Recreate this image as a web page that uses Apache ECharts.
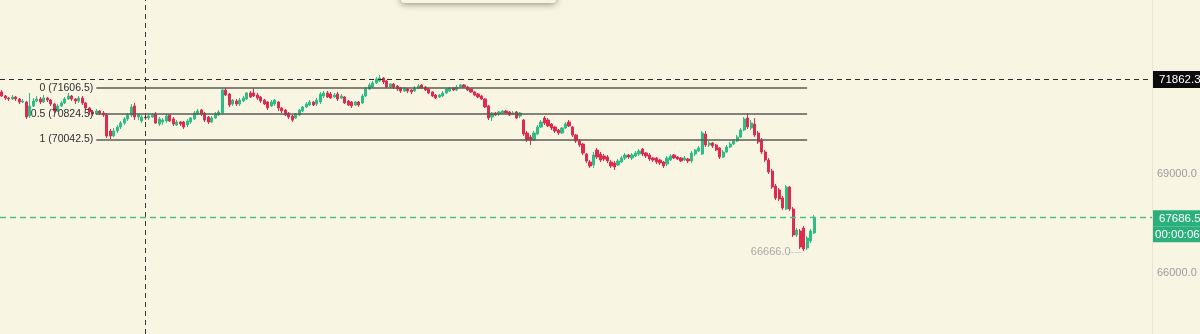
<!DOCTYPE html>
<html><head><meta charset="utf-8">
<script src="https://cdn.jsdelivr.net/npm/echarts@6/dist/echarts.min.js"></script>
<style>html,body{margin:0;padding:0;background:#f9f5e3;} #c{width:1200px;height:334px;}</style>
</head><body><div id="c"></div>
<script>
// ---- data (prices) ----
const opens = [
71485,71364,71303,71273,71333,71273,71182,71182,70758,71061,
71212,71273,71182,71303,71242,71121,70909,71061,71152,71273,
71364,71273,71212,71303,71152,71000,70879,70818,70909,70848,
70788,70303,70152,70303,70424,70545,70667,70788,71061,70727,
70606,70727,70697,70727,70818,70515,70576,70606,70788,70667,
70485,70576,70576,70485,70576,70667,70818,70939,70848,70727,
70576,70697,70788,70848,71545,71424,71121,71212,71121,71212,
71273,71455,71455,71394,71333,71242,71182,71061,71121,71182,
71000,70939,70848,70758,70697,70788,70909,71030,71091,71182,
71121,71182,71364,71455,71424,71333,71424,71303,71333,71212,
71182,71091,71182,71152,71364,71576,71636,71758,71818,71909,
71818,71636,71727,71667,71606,71515,71576,71545,71515,71606,
71697,71636,71576,71485,71394,71333,71364,71455,71515,71606,
71545,71636,71697,71636,71576,71485,71424,71364,71273,71061,
70727,70848,70818,70848,70909,70879,70818,70879,70758,70636,
70242,70121,70030,70212,70424,70697,70636,70515,70424,70333,
70242,70394,70576,70424,70182,70000,69909,69606,69364,69273,
69727,69606,69545,69515,69364,69333,69273,69364,69485,69576,
69485,69545,69606,69758,69636,69576,69485,69485,69424,69364,
69303,69424,69576,69515,69485,69424,69455,69394,69606,69697,
69606,70212,69879,69939,69879,69788,69515,69667,69818,69909,
70000,70121,70333,70697,70394,70515,70242,70030,69667,69424,
69091,68636,68515,68273,67939,68606,67939,67152,67273,67364,
66758,66970,67212];
const closes = [
71364,71303,71273,71333,71273,71182,71212,70727,71061,71212,
71273,71182,71303,71242,71121,70909,71061,71152,71273,71364,
71273,71212,71303,71152,71000,70879,70818,70909,70848,70788,
70152,70152,70303,70424,70545,70667,70788,71030,70727,70788,
70727,70697,70758,70788,70545,70667,70636,70758,70606,70515,
70576,70515,70424,70606,70697,70848,70909,70818,70636,70576,
70697,70818,70879,71545,71394,71091,71242,71121,71242,71303,
71455,71333,71364,71303,71212,71121,71000,71182,71242,71000,
70909,70788,70727,70636,70818,70939,71030,71121,71182,71091,
71242,71424,71455,71333,71303,71394,71273,71364,71152,71091,
71061,71182,71091,71364,71576,71697,71758,71879,71909,71788,
71636,71727,71636,71576,71515,71576,71515,71485,71606,71667,
71606,71545,71455,71364,71303,71394,71455,71576,71606,71545,
71636,71697,71636,71545,71485,71394,71333,71273,71030,70697,
70848,70788,70879,70909,70848,70788,70848,70697,70848,70212,
70030,70030,70242,70424,70576,70545,70455,70394,70303,70242,
70394,70515,70455,70182,70000,69879,69636,69394,69242,69576,
69515,69424,69455,69394,69242,69212,69394,69485,69576,69515,
69576,69636,69697,69606,69545,69455,69424,69364,69333,69242,
69485,69545,69485,69455,69394,69485,69394,69636,69727,69788,
70242,69879,69939,69848,69727,69515,69667,69818,69909,70000,
70121,70333,70667,70424,70545,70182,69970,69667,69424,69061,
68606,68273,68242,67970,68606,67939,67152,67303,66788,66727,
67061,67273,67686.5];
const lows = [
71333,71242,71212,71242,71212,71121,71152,70667,70697,71030,
71182,71121,71152,71182,71061,70848,70879,71030,71121,71242,
71212,71121,71152,71091,70939,70788,70758,70788,70788,70727,
70091,70061,70121,70242,70364,70485,70606,70727,70636,70636,
70545,70636,70636,70697,70515,70455,70485,70545,70576,70455,
70455,70455,70364,70424,70515,70636,70788,70758,70576,70515,
70545,70667,70758,70818,71364,71030,71061,71061,71061,71182,
71242,71303,71333,71242,71152,71091,70939,71030,71061,70909,
70848,70758,70667,70576,70667,70758,70879,71000,71061,71061,
71061,71121,71303,71303,71273,71303,71212,71273,71121,71061,
71000,71061,71030,71121,71333,71545,71606,71727,71788,71727,
71606,71606,71576,71515,71455,71485,71455,71424,71485,71576,
71576,71515,71424,71333,71273,71303,71333,71424,71485,71515,
71515,71606,71606,71515,71455,71364,71303,71242,71000,70636,
70606,70758,70758,70818,70818,70758,70788,70667,70697,70152,
69970,69879,70000,70182,70394,70485,70424,70333,70242,70182,
70212,70364,70424,70121,69939,69818,69576,69333,69182,69182,
69455,69364,69394,69333,69182,69121,69242,69333,69424,69455,
69424,69515,69545,69545,69485,69394,69364,69303,69273,69182,
69242,69394,69455,69424,69364,69394,69333,69333,69545,69667,
69576,69818,69818,69788,69697,69455,69485,69636,69788,69879,
69970,70091,70303,70364,70333,70121,69909,69606,69364,69000,
68545,68212,68182,67909,67909,67879,67091,67091,66727,66666,
66697,66909,67182];
const highs = [
71545,71394,71333,71394,71364,71303,71273,71212,71455,71303,
71364,71333,71394,71333,71273,71152,71121,71212,71333,71455,
71394,71303,71364,71364,71182,71030,70939,70970,70939,70909,
70848,70364,70394,70485,70606,70727,70848,71121,71152,70848,
70788,70818,70818,70848,70879,70727,70697,70818,70818,70727,
70636,70606,70606,70667,70727,70909,70970,70970,70879,70758,
70758,70879,70939,71576,71606,71455,71273,71273,71303,71364,
71485,71515,71606,71455,71364,71273,71212,71242,71273,71212,
71030,70970,70879,70788,70848,70970,71061,71182,71242,71212,
71303,71485,71515,71515,71485,71455,71485,71424,71364,71242,
71212,71212,71212,71424,71636,71758,71818,71939,72000,71939,
71848,71758,71758,71697,71636,71636,71606,71576,71667,71727,
71727,71667,71606,71515,71424,71424,71515,71606,71636,71636,
71697,71727,71727,71667,71606,71515,71455,71394,71303,71091,
70879,70879,70909,70939,70939,70909,70909,70909,70879,70667,
70303,70182,70303,70485,70636,70758,70697,70545,70455,70364,
70424,70576,70636,70455,70212,70061,69939,69636,69424,69667,
69788,69667,69606,69576,69424,69394,69455,69545,69636,69606,
69636,69697,69758,69788,69667,69636,69515,69515,69455,69394,
69545,69606,69606,69545,69515,69545,69485,69697,69758,69848,
70303,70303,70000,69970,69909,69818,69727,69879,69970,70061,
70182,70394,70727,70848,70636,70697,70303,70091,69727,69485,
69152,68697,68576,68333,68667,68636,68000,67364,67333,67424,
67121,67333,67758];

const slotCount = 329;                 // candle slots across the plot (incl. empty right margin)
const categories = Array.from({length: slotCount}, (_, i) => String(i));
const yTickValues = [66000, 69000];
const fibLevels = [
  {name: '0',   value: 71606.5},
  {name: '0.5', value: 70824.5},
  {name: '1',   value: 70042.5}
];
const fibStartIndex = 27, fibEndIndex = 230;
const crossPrice = 71862.3, crossIndex = 41;
const lastPrice = 67686.5, countdown = '00:00:06';
const minPrice = 66666.0, minIndex = 229;

// ---- chart ----
const UP = '#2fbd86', DOWN = '#dd2c4e', TAG = '#2bb07c', LASTLINE = '#4cc18e';
const candles = opens.map((o, i) => [o, closes[i], lows[i], highs[i]]);
const chart = echarts.init(document.getElementById('c'), null, {renderer: 'canvas'});

const guideLines = [
  {
    yAxis: crossPrice,
    lineStyle: {color: '#2a2a2a', type: [5, 4], width: 1},
    label: {show: true, position: 'end', distance: 1, formatter: crossPrice.toFixed(1),
      backgroundColor: '#0c0c0c', color: '#ffffff', fontSize: 11.5, padding: [3, 5, 2, 6]}
  },
  {
    xAxis: crossIndex,
    lineStyle: {color: '#3a3a3a', type: [5, 4], width: 1},
    label: {show: false}
  }
];
fibLevels.forEach(f => {
  guideLines.push([
    {coord: [fibStartIndex, f.value],
     lineStyle: {color: '#5c5a52', type: 'solid', width: 1.5},
     label: {show: true, position: 'start', distance: 3, color: '#2e2e2e', fontSize: 10.5,
             padding: [0, 0, 15, 0],
             formatter: f.name + ' (' + f.value.toFixed(1) + ')'}},
    {coord: [fibEndIndex, f.value]}
  ]);
});

chart.setOption({
  backgroundColor: '#f9f5e3',
  animation: false,
  textStyle: {fontFamily: 'Liberation Sans, Arial, sans-serif'},
  grid: {left: 0, right: 48, top: 0, bottom: 0, containLabel: false},
  xAxis: {
    type: 'category', data: categories, boundaryGap: true,
    axisLine: {show: false}, axisTick: {show: false}, axisLabel: {show: false}, splitLine: {show: false}
  },
  yAxis: {
    type: 'value', position: 'right', scale: true,
    min: 64151.5, max: 74272.7,
    axisLine: {show: true, lineStyle: {color: '#e9e5d2'}},
    axisTick: {show: false},
    splitLine: {show: false},
    axisLabel: {
      show: true, customValues: yTickValues, color: '#9c9c9c', fontSize: 11, margin: 5,
      formatter: v => Number(v).toFixed(1)
    }
  },
  graphic: [{
    type: 'rect', z: 100,
    shape: {x: 401, y: -30, width: 155, height: 33, r: 3},
    style: {fill: '#f9f5e3', shadowBlur: 7, shadowColor: 'rgba(0,0,0,0.45)', shadowOffsetY: 1}
  }],
  series: [{
    type: 'candlestick',
    data: candles,
    barWidth: 2.6,
    itemStyle: {color: UP, color0: DOWN, borderColor: UP, borderColor0: DOWN, borderWidth: 1},
    markLine: {
      silent: true, symbol: ['none', 'none'], animation: false, precision: 1,
      data: guideLines
    },
    markPoint: {
      silent: true, animation: false,
      data: [{
        coord: [minIndex, minPrice], symbol: 'rect', symbolSize: 0,
        label: {show: true, position: 'left', distance: 2, offset: [0, 1], color: '#a9a9a9', fontSize: 11,
                formatter: '{v|' + minPrice.toFixed(1) + '}{d|—}',
                rich: {v: {color: '#a9a9a9', fontSize: 11}, d: {color: '#c9c9c9', fontSize: 11}}}
      }]
    }
  }, {
    // helper series that only carries the last-price line and its tag
    type: 'line', name: 'last', data: [], color: LASTLINE, silent: true,
    markLine: {
      silent: true, symbol: ['none', 'none'], animation: false, precision: 1,
      lineStyle: {color: LASTLINE, type: [6, 4], width: 1.4},
      data: [{
        yAxis: lastPrice,
        label: {show: true, position: 'end', distance: 1,
          formatter: '{a|' + lastPrice.toFixed(1) + '}\n{b|' + countdown + '}',
          padding: [18, 0, 0, 0],
          rich: {
            a: {backgroundColor: TAG, color: '#ffffff', fontSize: 11.5, width: 40, height: 16, lineHeight: 16, padding: [0, 1, 0, 6]},
            b: {backgroundColor: TAG, color: '#ffffff', fontSize: 11.5, width: 45, height: 16, lineHeight: 16, padding: [0, 0, 0, 2]}
          }}
      }]
    }
  }]
});
</script></body></html>
